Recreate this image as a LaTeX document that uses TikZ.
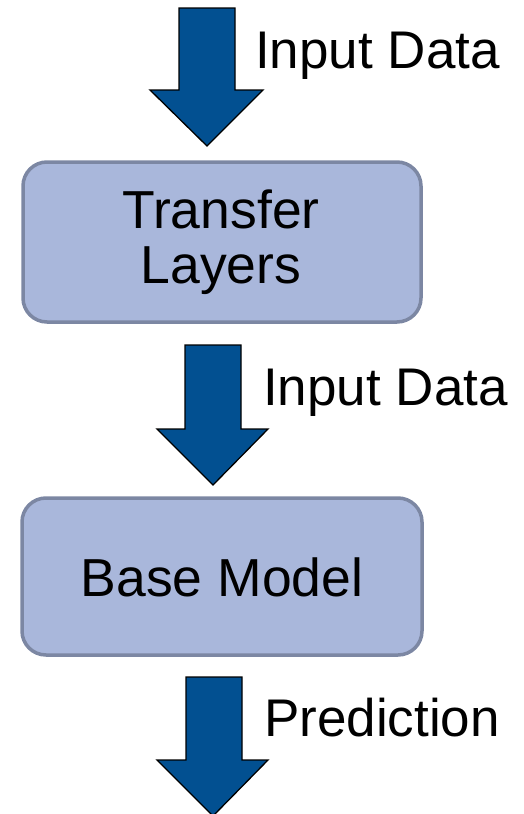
\documentclass[tikz,border=0pt]{standalone}
\usepackage{fontspec}
\setmainfont{Liberation Sans}
\definecolor{arrowblue}{RGB}{2,80,145}
\definecolor{boxfill}{RGB}{169,183,219}
\definecolor{boxedge}{RGB}{124,135,163}
\tikzset{
  blockarrow/.style={fill=arrowblue, draw=black, line width=1.3pt, line join=miter},
  stagebox/.style={fill=boxfill, draw=boxedge, line width=3.5pt, rounded corners=24pt},
  boxtext/.style={font=\fontsize{53.5}{55}\selectfont, align=center, inner sep=0pt},
  arrowlabel/.style={font=\fontsize{53}{55}\selectfont, anchor=base west, inner sep=0pt},
}
\begin{document}
\begin{tikzpicture}[x=1pt, y=-1pt]
\useasboundingbox (0,0) rectangle (524,814);
% arrow 1
\draw[blockarrow] (179,8) -- (235,8) -- (235,90) -- (263,90) -- (207,146) coordinate (tip1) -- (150,90) -- (179,90) -- cycle;
\node[arrowlabel] (lab1) at (255,68) {Input Data};
% box 1
\draw[stagebox] (23,162) rectangle (421,322);
\node[boxtext] (tl) at (221,242) {Transfer\\Layers};
% arrow 2
\draw[blockarrow] (185,345) -- (241,345) -- (241,429) -- (268,429) -- (213,485) coordinate (tip2) -- (157,429) -- (185,429) -- cycle;
\node[arrowlabel] (lab2) at (263,405) {Input Data};
% box 2
\draw[stagebox] (22,498) rectangle (422,655);
\node[boxtext] (bm) at (222,577) {Base Model};
% arrow 3
\draw[blockarrow] (186,677) -- (242,677) -- (242,760) -- (268,760) -- (213,816) coordinate (tip3) -- (157,760) -- (186,760) -- cycle;
\node[arrowlabel] (lab3) at (264,736) {Prediction};
\end{tikzpicture}
\end{document}
